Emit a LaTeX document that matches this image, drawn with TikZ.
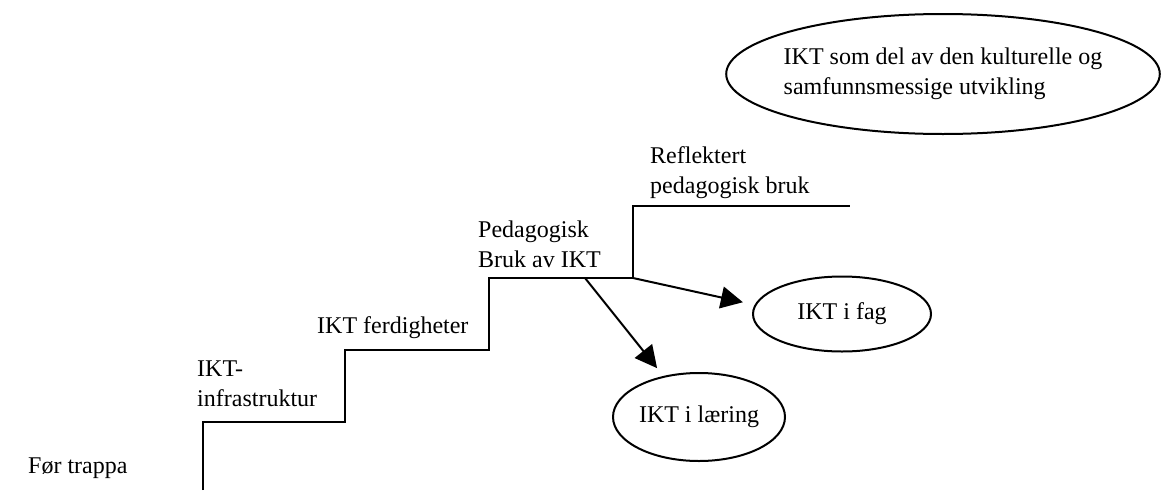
\documentclass[tikz,border=0pt]{standalone}
\usepackage{fontspec}
\setmainfont{Liberation Serif}
\usetikzlibrary{shapes.geometric,arrows.meta}
\tikzset{
  lbl/.style={inner sep=0pt, anchor=base west, align=left, font=\fontsize{24}{30}\selectfont},
  oval/.style={draw, line width=2pt, ellipse, inner sep=0pt, align=left, font=\fontsize{24}{30}\selectfont},
  stair/.style={line width=2pt},
  arr/.style={line width=2pt, -{Triangle[length=22pt,width=22pt]}}
}
\begin{document}
\begin{tikzpicture}[x=1pt,y=-1pt]
\useasboundingbox (0,0) rectangle (1161,490);
% stairs
\draw[stair] (203,490) -- (203,422) -- (345,422) -- (345,350) -- (489,350) -- (489,278) -- (633,278) -- (633,206) -- (850,206);
\coordinate (c1) at (633,278);
\coordinate (c2) at (585,278);
% labels (base = baseline of last line)
\node[lbl] (for) at (28,473) {Før trappa};
\node[lbl] (infra) at (197,406) {IKT-\\infrastruktur};
\node[lbl] (ferd) at (317,333) {IKT ferdigheter};
\node[lbl] (ped) at (478,267) {Pedagogisk\\Bruk av IKT};
\node[lbl] (refl) at (650,193) {Reflektert\\pedagogisk bruk};
% ovals
\node[oval, inner xsep=-6pt, minimum width=432pt, minimum height=120pt] (kult) at (943,74) {IKT som del av den kulturelle og\\samfunnsmessige utvikling};
\node[oval, minimum width=178pt, minimum height=75pt] (fag) at (842,314) {IKT i fag};
\node[oval, minimum width=172pt, minimum height=88pt] (laer) at (699,417) {IKT i læring};
% arrows
\draw[arr, shorten >=12pt] (c1) -- (fag.174);
\draw[arr, shorten >=10pt] (c2) -- (laer.131);
\end{tikzpicture}
\end{document}
